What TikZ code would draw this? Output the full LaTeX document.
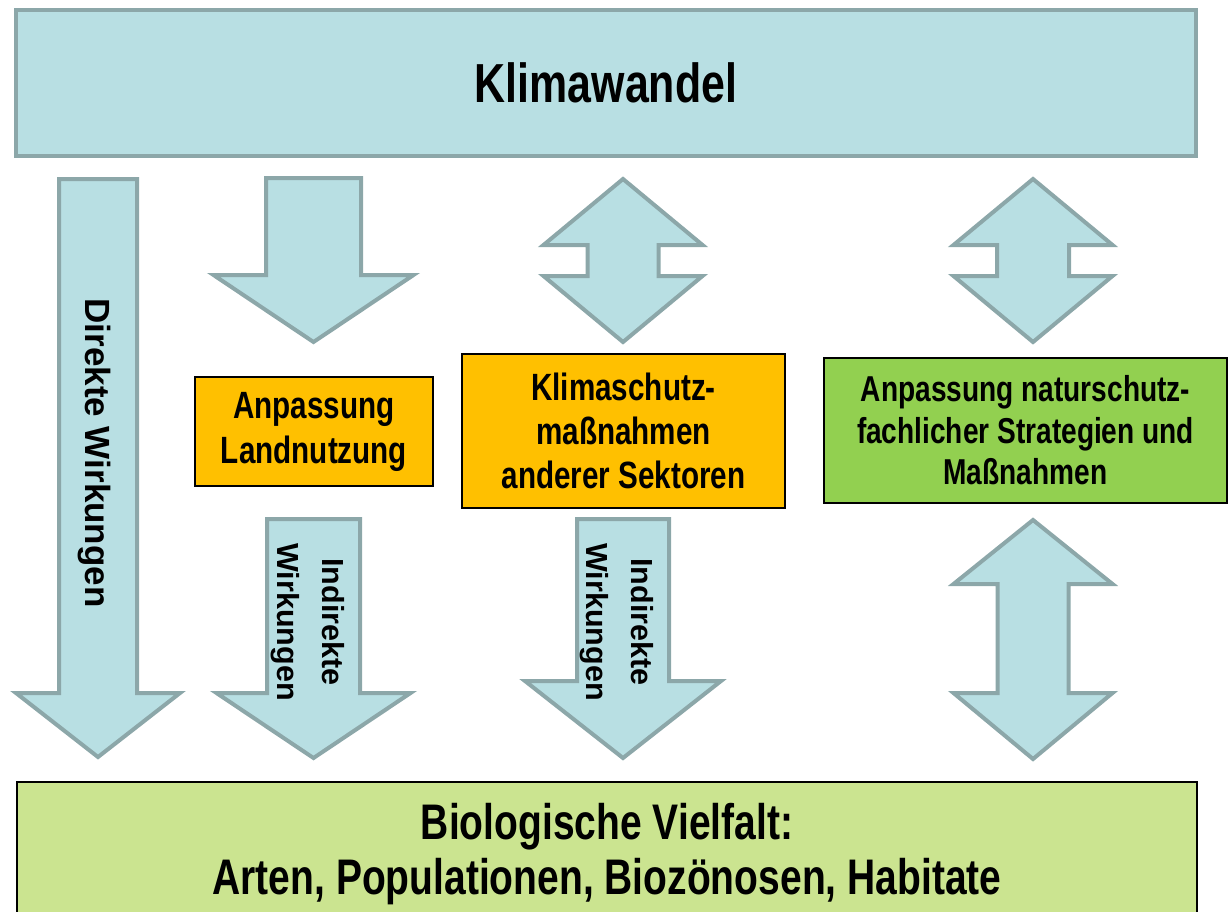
\documentclass[tikz,border=0pt]{standalone}
\usepackage{fontspec}
\setmainfont[FakeStretch=0.78]{Liberation Sans}
\newfontfamily\rotfont{Liberation Sans}
\definecolor{arrowfill}{HTML}{B8DFE3}
\definecolor{arrowline}{HTML}{8CA7A9}
\definecolor{orangefill}{HTML}{FFC000}
\definecolor{greenfill}{HTML}{92D050}
\definecolor{biofill}{HTML}{CBE490}
\tikzset{
  blk/.style={fill=arrowfill, draw=arrowline, line width=4pt},
  boxnode/.style={draw=black, line width=2pt, align=center, inner sep=0pt},
}
\newcommand\downblk[6]{% cx, top, shaft half, head base, head half, tip
  \draw[blk] ({#1-#3},#2) -- ({#1+#3},#2) -- ({#1+#3},#4) -- ({#1+#5},#4) -- (#1,#6) -- ({#1-#5},#4) -- ({#1-#3},#4) -- cycle;}
\newcommand\dblblk[7]{% cx, top tip, base1, base2, bottom tip, shaft half, head half
  \draw[blk] (#1,#2) -- ({#1+#7},#3) -- ({#1+#6},#3) -- ({#1+#6},#4) -- ({#1+#7},#4) -- (#1,#5) -- ({#1-#7},#4) -- ({#1-#6},#4) -- ({#1-#6},#3) -- ({#1-#7},#3) -- cycle;}
\begin{document}
\begin{tikzpicture}[x=1pt,y=-1pt]
\useasboundingbox (0,0) rectangle (1230,911);
% top box
\node[fill=arrowfill, draw=arrowline, line width=4pt, minimum width=1180pt, minimum height=146pt, inner sep=0pt,
      font=\fontsize{55}{62}\selectfont\bfseries] (klima) at (606,83) {Klimawandel};
% arrows
\downblk{98}{179}{39}{693}{82}{757}
\downblk{313.5}{178}{47.5}{275}{100}{342}
\downblk{313.5}{519}{46.5}{693}{97}{758}
\downblk{623}{519}{46}{681}{98}{758}
\dblblk{623}{179}{245}{276}{342}{35.5}{79.5}
\dblblk{1033}{179}{245}{276}{342}{36}{79.5}
\dblblk{1033}{520}{584}{693}{759}{35.5}{79.5}
% boxes
\node[boxnode, fill=orangefill, minimum width=238pt, minimum height=109pt,
      font=\fontsize{38}{45}\selectfont\bfseries] (anp) at (314,431.5) {Anpassung\\Landnutzung};
\node[boxnode, fill=orangefill, minimum width=323pt, minimum height=154pt,
      font=\fontsize{38}{44}\selectfont\bfseries] (ksm) at (623.5,431) {Klimaschutz-\\maßnahmen\\anderer Sektoren};
\node[boxnode, fill=greenfill, minimum width=403pt, minimum height=145pt,
      font=\fontsize{36}{41.5}\selectfont\bfseries] (nat) at (1025.5,430.5) {Anpassung naturschutz-\\fachlicher Strategien und\\Maßnahmen};
% bottom box
\node[boxnode, fill=biofill, minimum width=1180pt, minimum height=180pt, anchor=north] (bio) at (607,781) {};
\node[font=\fontsize{50}{55}\selectfont\bfseries, align=center, inner sep=0pt] (biotext) at (607,854.5)
  {Biologische Vielfalt:\\Arten, Populationen, Biozönosen, Habitate};
% rotated labels
\node[rotate=-90, inner sep=0pt, font=\rotfont\fontsize{35}{42}\selectfont\bfseries] (direkt) at (94,453) {Direkte Wirkungen};
\node[rotate=-90, inner sep=0pt, align=center, font=\rotfont\fontsize{30.5}{45}\selectfont\bfseries] (ind1) at (308,622) {Indirekte\\Wirkungen};
\node[rotate=-90, inner sep=0pt, align=center, font=\rotfont\fontsize{30.5}{45}\selectfont\bfseries] (ind2) at (617,622) {Indirekte\\Wirkungen};
\end{tikzpicture}
\end{document}
